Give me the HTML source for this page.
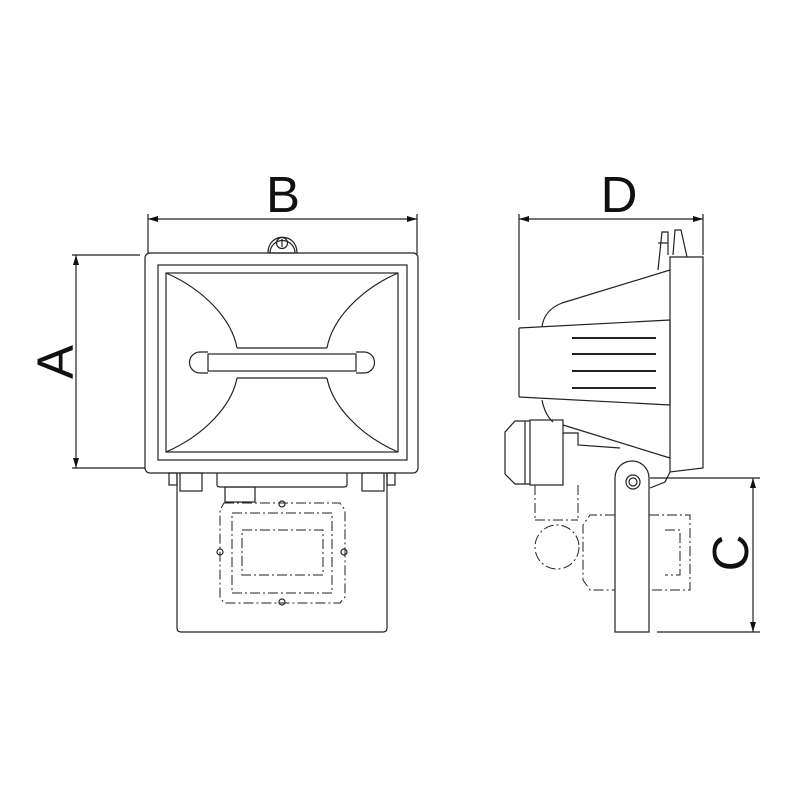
<!DOCTYPE html>
<html><head><style>html,body{margin:0;padding:0;background:#fff}svg{display:block}</style></head>
<body>
<svg width="800" height="800" viewBox="0 0 800 800" xmlns="http://www.w3.org/2000/svg">
<defs>
<marker id="ar" viewBox="0 0 10 10" refX="10" refY="5" markerWidth="10" markerHeight="6" markerUnits="userSpaceOnUse" orient="auto-start-reverse" preserveAspectRatio="none"><path d="M0,0 L10,5 L0,10 z" fill="#111"/></marker>
</defs>
<g font-family="Liberation Sans, sans-serif" font-size="51" fill="#111">
<text x="283" y="212" text-anchor="middle">B</text>
<text x="619" y="212" text-anchor="middle">D</text>
<text transform="translate(73,362) rotate(-90)" text-anchor="middle">A</text>
<text transform="translate(748,553) rotate(-90)" text-anchor="middle">C</text>
</g>
<g fill="none" stroke="#222" stroke-width="1.2">
<!-- dimensions -->
<line x1="148" y1="219" x2="417" y2="219" marker-start="url(#ar)" marker-end="url(#ar)"/>
<line x1="148" y1="214" x2="148" y2="254"/><line x1="417" y1="214" x2="417" y2="254"/>
<line x1="76" y1="255" x2="76" y2="468" marker-start="url(#ar)" marker-end="url(#ar)"/>
<line x1="72" y1="255" x2="140" y2="255"/><line x1="72" y1="468" x2="145" y2="468"/>
<line x1="519" y1="219" x2="703" y2="219" marker-start="url(#ar)" marker-end="url(#ar)"/>
<line x1="519" y1="214" x2="519" y2="320"/><line x1="703" y1="214" x2="703" y2="255"/>
<line x1="753" y1="478" x2="753" y2="632" marker-start="url(#ar)" marker-end="url(#ar)"/>
<line x1="650" y1="478" x2="760" y2="478"/><line x1="657" y1="632" x2="760" y2="632"/>

<!-- front view -->
<path d="M270,253 A12,12 0 0 1 295,253 Z"/>
<path d="M268,253 C268,232 297,232 297,253"/>
<circle cx="282" cy="243" r="5.5"/><line x1="282" y1="239" x2="282" y2="247"/>
<rect x="145" y="253" width="273" height="220" rx="5"/>
<rect x="158" y="265" width="249" height="195"/>
<rect x="166" y="273" width="232" height="179"/>
<path d="M166,273 C205,290 232,320 237,348 M237,378 C232,405 205,435 166,452"/>
<path d="M398,273 C359,290 332,320 327,348 M327,378 C332,405 359,435 398,452"/>
<line x1="237" y1="348" x2="327" y2="348"/><line x1="237" y1="378" x2="327" y2="378"/>
<rect x="208" y="354" width="148" height="17"/>
<path d="M208,352 L200,352 A10,10 0 0 0 200,373 L208,373"/>
<path d="M356,352 L364,352 A10,10 0 0 1 364,373 L356,373"/>
<path d="M177,473 L177,628 Q177,632 181,632 L383,632 Q387,632 387,628 L387,473"/>
<rect x="169" y="473" width="8" height="12"/><rect x="387" y="473" width="8" height="12"/>
<rect x="180" y="473" width="22" height="18"/><rect x="362" y="473" width="22" height="18"/>
<path d="M217,473 L217,485 Q217,487 220,487 L344,487 Q347,487 347,485 L347,473"/>
<rect x="225" y="487" width="30" height="15"/>
<g stroke-dasharray="10,3,2,3" stroke-width="1">
<path d="M224,503 L340,503 L345,510 L345,597 L340,603 L224,603 L220,597 L220,510 Z"/>
<rect x="232" y="513" width="100" height="80"/>
<rect x="242" y="530" width="81" height="45"/>
</g>
<circle cx="282" cy="504" r="3"/><circle cx="282" cy="602" r="3"/><circle cx="220" cy="552" r="3"/><circle cx="344" cy="552" r="3"/>

<!-- side view -->
<path d="M658,270 L662,232 L668,232 L668,255 M673,255 L675,230 L681,230 L687,257"/>
<line x1="658" y1="243" x2="668" y2="243"/>
<path d="M670,257 L703,257 L703,468 L670,472 Z"/>
<path d="M670,270 L562,303 Q544,310 542,327"/>
<path d="M519,328 L670,320 M519,397 L670,405 M519,328 L519,397"/>
<path d="M670,320 L670,405"/>
<line x1="572" y1="338" x2="656" y2="338" stroke-width="2"/>
<line x1="572" y1="354" x2="656" y2="354" stroke-width="2"/>
<line x1="572" y1="371" x2="656" y2="371" stroke-width="2"/>
<line x1="572" y1="388" x2="656" y2="388" stroke-width="2"/>
<path d="M542,400 Q545,415 553,422"/>
<path d="M563,425 L670,458"/>
<path d="M563,433 L578,433 L578,445 L620,448"/>
<path d="M670,472 L665,482 L650,488"/>
<rect x="530" y="420" width="33" height="65"/>
<path d="M530,421 L515,421 L505,432 L505,474 L515,484 L530,484"/>
<line x1="525" y1="421" x2="525" y2="484"/>
<path d="M615,632 L615,478 A17,17 0 0 1 649,478 L649,632 Z"/>
<circle cx="633" cy="482" r="7"/><circle cx="633" cy="482" r="4"/>
<g stroke-dasharray="10,3,2,3" stroke-width="1">
<path d="M535,485 L535,520 M578,485 L578,520 M535,520 L578,520"/>
<circle cx="557" cy="547" r="22"/>
<path d="M615,515 L590,515 L583,525 L583,580 L590,590 L615,590"/>
<path d="M649,515 L690,515 L690,590 L649,590 M665,530 L680,530 L680,575 L665,575"/>
</g>
</g>
</svg>
</body></html>
